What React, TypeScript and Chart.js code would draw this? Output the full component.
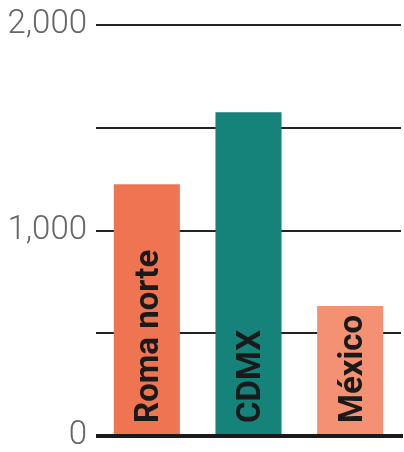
import React, { useEffect, useRef } from "react";
import { Chart, registerables } from "chart.js";

Chart.register(...registerables);

const categories = ["Roma norte", "CDMX", "México"];
const values = [1225, 1575, 633];
const barColors = ["#EF7552", "#15837A", "#F39172"];
const tickValuesShown = [0, 1000, 2000];

const barLabelPlugin = {
  id: "barLabels",
  afterDatasetsDraw(chart: any) {
    const ctx = chart.ctx;
    const meta = chart.getDatasetMeta(0);
    const yScale = chart.scales.y;
    const base = yScale.getPixelForValue(0);
    ctx.save();
    ctx.font = "bold 33px Roboto";
    ctx.fillStyle = "#1a1a1a";
    ctx.textAlign = "left";
    ctx.textBaseline = "alphabetic";
    meta.data.forEach((bar: any, i: number) => {
      ctx.save();
      ctx.translate(bar.x + 11.5, base - 13);
      ctx.rotate(-Math.PI / 2);
      ctx.fillText(categories[i], 0, 0);
      ctx.restore();
    });
    // zero baseline
    const area = chart.chartArea;
    ctx.beginPath();
    ctx.strokeStyle = "#1a1a1a";
    ctx.lineWidth = 4;
    ctx.moveTo(area.left, base);
    ctx.lineTo(area.right + 2, base);
    ctx.stroke();
    ctx.restore();
  },
};

export default function App() {
  const ref = useRef<HTMLCanvasElement>(null);
  useEffect(() => {
    if (!ref.current) return;
    const chart = new Chart(ref.current, {
      type: "bar",
      data: {
        labels: categories,
        datasets: [
          {
            data: values,
            backgroundColor: barColors,
            barPercentage: 0.65,
            categoryPercentage: 1,
          },
        ],
      },
      options: {
        animation: false,
        responsive: false,
        maintainAspectRatio: false,
        layout: { padding: { top: 25, bottom: 16, right: 3, left: 0 } },
        plugins: { legend: { display: false }, tooltip: { enabled: false } },
        scales: {
          x: { display: false },
          y: {
            min: 0,
            max: 2000,
            afterFit: (s: any) => {
              s.width = 96;
              s.paddingTop = 0;
              s.paddingBottom = 0;
            },
            border: { display: false },
            grid: {
              color: "#222222",
              lineWidth: 2,
              drawTicks: false,
            },
            ticks: {
              stepSize: 500,
              padding: 9,
              color: "#666666",
              font: { family: "Roboto", size: 33, weight: "300" as any, lineHeight: 0.5 },
              callback: (v: any) =>
                tickValuesShown.includes(Number(v)) ? Number(v).toLocaleString("en-US") : "",
            },
          },
        },
      },
      plugins: [barLabelPlugin],
    });
    return () => chart.destroy();
  }, []);
  return (
    <div style={{ position: "fixed", left: 0, top: 0, width: 404, height: 452, background: "#fff" }}>
      <canvas ref={ref} width={404} height={452} />
    </div>
  );
}
